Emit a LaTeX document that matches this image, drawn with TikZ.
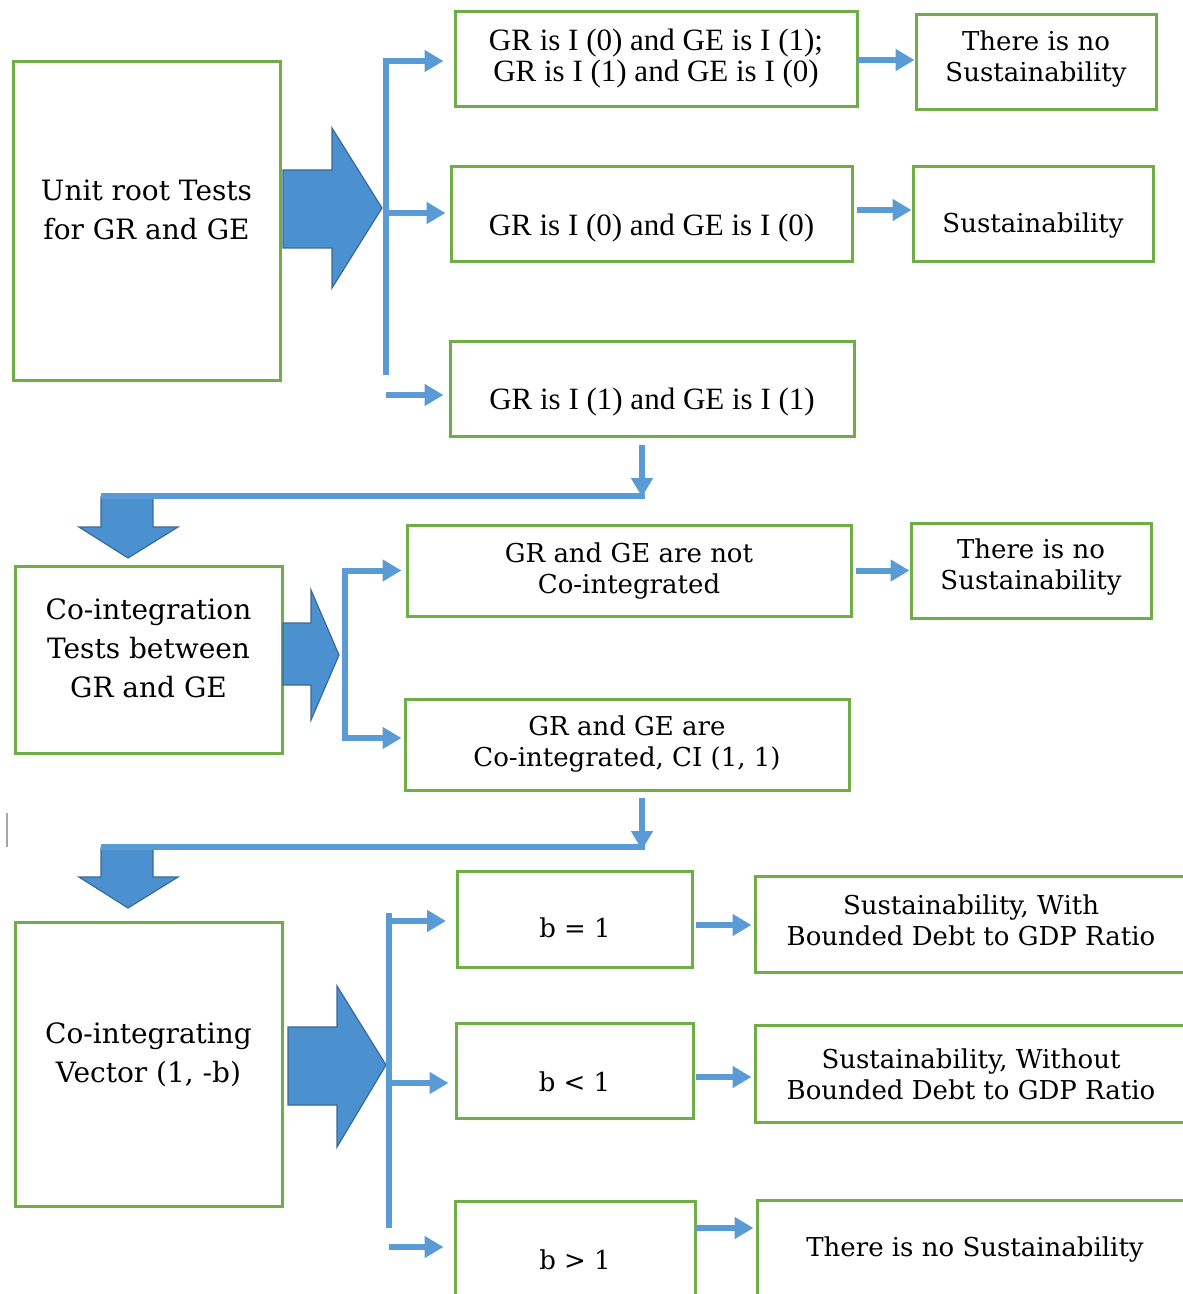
\documentclass[tikz,border=0pt]{standalone}
\usepackage{fontspec}
\setmainfont{DejaVu Serif}
\newfontfamily\timesfont{Liberation Serif}
\usetikzlibrary{arrows.meta}
\definecolor{boxgreen}{RGB}{112,173,71}
\definecolor{lineblue}{RGB}{91,155,213}
\definecolor{arrblue}{RGB}{76,145,207}
\definecolor{arredge}{RGB}{58,105,150}
\tikzstyle{gbox}=[rectangle,draw=boxgreen,line width=1.5pt,inner sep=0pt]
\tikzstyle{bigtxt}=[align=center,font=\fontsize{14}{19.5}\selectfont]
\tikzstyle{smtxt}=[align=center,font=\fontsize{13}{15.5}\selectfont]
\tikzstyle{tmtxt}=[align=center,font=\timesfont\fontsize{15.5}{15.5}\selectfont]
\tikzstyle{bline}=[draw=lineblue,line width=3pt]
\tikzstyle{barr}=[bline,-{Triangle[length=9.5pt,width=10.5pt]}]
\tikzstyle{blk}=[fill=arrblue,draw=arredge,line width=0.6pt]

\begin{document}
\begin{tikzpicture}[x=0.5pt,y=-0.5pt]
\useasboundingbox (0,0) rectangle (1182,1294);
% left column
\node[gbox,minimum width=133.5pt,minimum height=159pt] (ur) at (146.5,221) {};
\node[bigtxt] (urt) at (146.5,210) {Unit root Tests\\for GR and GE};
\node[gbox,minimum width=133.5pt,minimum height=93.5pt] (ci) at (148.5,659.5) {};
\node[bigtxt] (cit) at (148.5,648) {Co-integration\\Tests between\\GR and GE};
\node[gbox,minimum width=133.5pt,minimum height=142pt] (cv) at (148.5,1064) {};
\node[bigtxt] (cvt) at (148.5,1055) {Co-integrating\\Vector (1, -b)};
% unit root outcomes
\node[gbox,minimum width=201pt,minimum height=47.5pt] (a1) at (656,59.5) {};
\node[tmtxt] (a1t) at (656,58.5) {GR is I (0) and GE is I (1);\\GR is I (1) and GE is I (0)};
\node[gbox,minimum width=120pt,minimum height=47.5pt] (a1r) at (1036,62.5) {};
\node[smtxt] (a1rt) at (1036,59.5) {There is no\\Sustainability};
\node[gbox,minimum width=200.5pt,minimum height=47.5pt] (a2) at (651.5,214.5) {};
\node[tmtxt] (a2t) at (651.5,228) {GR is I (0) and GE is I (0)};
\node[gbox,minimum width=120pt,minimum height=47.5pt] (a2r) at (1033,214.5) {};
\node[smtxt] (a2rt) at (1033,226) {Sustainability};
\node[gbox,minimum width=202pt,minimum height=47pt] (a3) at (652,389) {};
\node[tmtxt] (a3t) at (652,402) {GR is I (1) and GE is I (1)};
% co-integration outcomes
\node[gbox,minimum width=222pt,minimum height=45.5pt] (b1) at (629,570.5) {};
\node[smtxt] (b1t) at (629,571.5) {GR and GE are not\\Co-integrated};
\node[gbox,minimum width=120pt,minimum height=47.5pt] (b1r) at (1031,570.5) {};
\node[smtxt] (b1rt) at (1031,567.5) {There is no\\Sustainability};
\node[gbox,minimum width=222pt,minimum height=45.5pt] (b2) at (627,744.5) {};
\node[smtxt] (b2t) at (627,744.5) {GR and GE are\\Co-integrated, CI (1, 1)};
% vector outcomes
\node[gbox,minimum width=117.5pt,minimum height=48pt] (c1) at (575,919) {};
\node[smtxt] (c1t) at (575,928) {b = 1};
\node[gbox,minimum width=216pt,minimum height=48pt] (c1r) at (971,924) {};
\node[smtxt] (c1rt) at (971,920) {Sustainability, With\\Bounded Debt to GDP Ratio};
\node[gbox,minimum width=118.5pt,minimum height=47.5pt] (c2) at (574.5,1070.5) {};
\node[smtxt] (c2t) at (574.5,1082) {b < 1};
\node[gbox,minimum width=216pt,minimum height=48.5pt] (c2r) at (971,1073.5) {};
\node[smtxt] (c2rt) at (971,1074) {Sustainability, Without\\Bounded Debt to GDP Ratio};
\node[gbox,minimum width=120pt,minimum height=59pt] (c3) at (575,1260) {};
\node[smtxt] (c3t) at (575,1260) {b > 1};
\node[gbox,minimum width=216pt,minimum height=48pt] (c3r) at (973,1248) {};
\node[smtxt] (c3rt) at (975,1249) {There is no Sustainability};
% block arrows
\draw[blk] (283,170) -- (332,170) -- (332,128) -- (382,208) -- (332,288) -- (332,248) -- (283,248) -- cycle;
\draw[blk] (283,623) -- (311,623) -- (311,590) -- (339,655) -- (311,720) -- (311,685) -- (283,685) -- cycle;
\draw[blk] (288,1027) -- (337,1027) -- (337,986) -- (386,1065) -- (337,1147) -- (337,1105) -- (288,1105) -- cycle;
\draw[blk] (101,497) -- (153,497) -- (153,527) -- (178,527) -- (128,558) -- (79,527) -- (101,527) -- cycle;
\draw[blk] (101,848) -- (153,848) -- (153,877) -- (178,877) -- (128,908) -- (79,877) -- (101,877) -- cycle;
% branch points
\coordinate (s1t) at (386,58);
\coordinate (s1b) at (386,375);
\coordinate (s1a) at (386,61);
\coordinate (s1m) at (386,213);
\coordinate (s1c) at (386,395);
\coordinate (q1) at (857,60);
\coordinate (q2) at (857,210);
\coordinate (d1) at (642,497);
\coordinate (h1a) at (101,496);
\coordinate (h1b) at (645,496);
\coordinate (k2) at (345,655);
\coordinate (k2b) at (345,738);
\coordinate (d2) at (642,850);
\coordinate (h2a) at (101,847);
\coordinate (h2b) at (645,847);
\coordinate (s3t) at (389,913);
\coordinate (s3b) at (389,1228);
\coordinate (s3a) at (389,921);
\coordinate (s3m) at (389,1083);
\coordinate (s3c) at (389,1247);
\coordinate (r1) at (696,925);
\coordinate (r2) at (696,1077);
\coordinate (r3) at (696,1228);
% connectors
\draw[bline] (s1t) -- (s1b);
\draw[barr,shorten >=5pt] (s1a) -- (s1a -| a1.west);
\draw[barr,shorten >=2pt] (s1m) -- (s1m -| a2.west);
\draw[barr,shorten >=2.5pt] (s1c) -- (s1c -| a3.west);
\draw[barr] (q1) -- (q1 -| a1r.west);
\draw[barr] (q2) -- (q2 -| a2r.west);
\draw[barr,shorten <=3.5pt] (a3.south -| d1) -- (d1);
\draw[bline] (h1a) -- (h1b);
\draw[barr,shorten >=2pt] (k2) |- (b1.west);
\draw[barr,shorten >=1pt] (k2) -- (k2b) -- (k2b -| b2.west);
\draw[barr,shorten <=1.5pt] (b1.east) -- (b1r.west);
\draw[barr,shorten <=3pt] (b2.south -| d2) -- (d2);
\draw[bline] (h2a) -- (h2b);
\draw[bline] (s3t) -- (s3b);
\draw[barr,shorten >=5pt] (s3a) -- (s3a -| c1.west);
\draw[barr,shorten >=3pt] (s3m) -- (s3m -| c2.west);
\draw[barr,shorten >=5pt] (s3c) -- (s3c -| c3.west);
\draw[barr,shorten >=1pt] (r1) -- (r1 -| c1r.west);
\draw[barr,shorten >=1pt] (r2) -- (r2 -| c2r.west);
\draw[barr,shorten >=1pt] (r3) -- (r3 -| c3r.west);
% stray mark
\draw[gray!70,line width=1pt] (7,813) -- (7,847);
\end{tikzpicture}
\end{document}
